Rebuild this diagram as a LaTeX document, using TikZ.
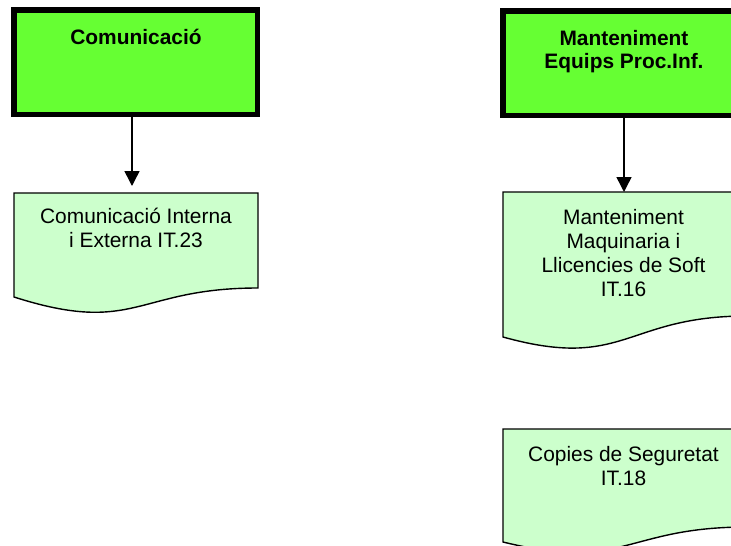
\documentclass[tikz,border=0pt]{standalone}
\usepackage{fontspec}
\setmainfont{Liberation Sans}
\usetikzlibrary{arrows.meta}
\definecolor{boxgreen}{RGB}{102,255,51}
\definecolor{docgreen}{RGB}{204,255,204}
\tikzset{
  x=1pt, y=-1pt,
  headbox/.style={draw=black, fill=boxgreen, line width=5.5pt, rectangle,
    minimum width=243.5pt, minimum height=104.5pt, inner sep=0pt},
  docshape/.style={draw=black, fill=docgreen, line width=1.4pt, line join=miter},
  docanchor/.style={rectangle, inner sep=0pt, minimum width=244pt},
  txt/.style={anchor=base, inner sep=0pt, font=\fontsize{20.9pt}{24.3pt}\selectfont},
  btxt/.style={txt, font=\fontsize{20.9pt}{23.5pt}\selectfont\bfseries},
  conn/.style={line width=1.5pt, -{Triangle[width=15pt,length=15pt]}}
}
\begin{document}
\begin{tikzpicture}
\useasboundingbox (0,0) rectangle (731,546);
% heading boxes
\node[headbox] (g1) at (135.5,62) {};
\node[headbox] (g2) at (624.5,63) {};
\node[btxt] (t1) at (136,44) {Comunicació};
\node[btxt] (t2) at (624,45) {\begin{tabular}[t]{@{}c@{}}Manteniment\\Equips Proc.Inf.\end{tabular}};
% document shapes
\draw[docshape] (14,193) -- (258,193) -- (258,288)
  .. controls (136,288) and (136,336) .. (14,297) -- cycle;
\draw[docshape] (503,192) -- (747,192) -- (747,316)
  .. controls (625,316) and (625,371) .. (503,337) -- cycle;
\draw[docshape] (503,429) -- (747,429) -- (747,527)
  .. controls (625,527) and (625,572) .. (503,542) -- cycle;
\node[docanchor, anchor=north west, minimum height=95pt] (d1) at (14,193) {};
\node[docanchor, anchor=north west, minimum height=124pt] (d2) at (503,192) {};
\node[docanchor, anchor=north west, minimum height=98pt] (d3) at (503,429) {};
\node[txt] (dt1) at (136,223) {\begin{tabular}[t]{@{}c@{}}Comunicació Interna\\i Externa IT.23\end{tabular}};
\node[txt] (dt2) at (623.5,224) {\begin{tabular}[t]{@{}c@{}}Manteniment\\Maquinaria i\\Llicencies de Soft\\IT.16\end{tabular}};
\node[txt] (dt3) at (623.5,461) {\begin{tabular}[t]{@{}c@{}}Copies de Seguretat\\IT.18\end{tabular}};
% connectors
\draw[conn, shorten >=7pt] (g1.south -| 132,0) -- (d1.north -| 132,0);
\draw[conn] (g2.south -| 624,0) -- (d2.north -| 624,0);
\end{tikzpicture}
\end{document}
